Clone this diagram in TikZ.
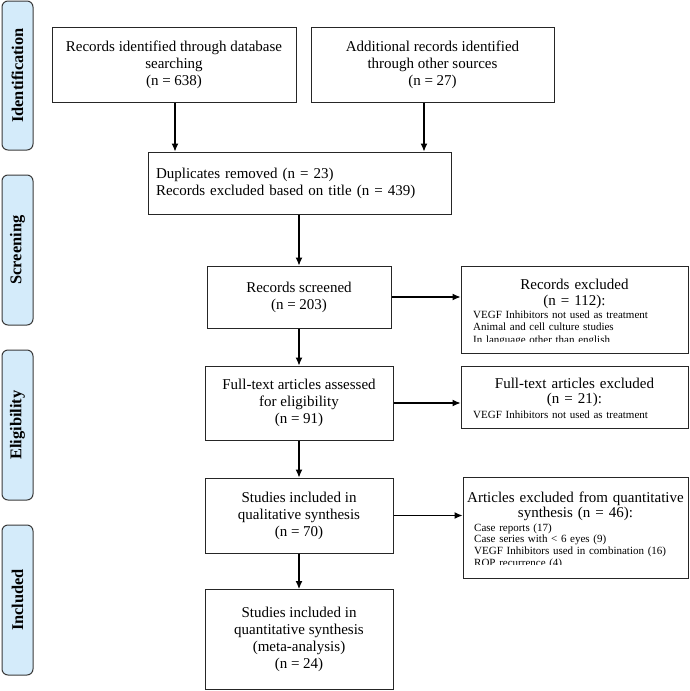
\documentclass[tikz,border=0pt]{standalone}
\usepackage{fontspec}
\setmainfont{Liberation Serif}
\usetikzlibrary{arrows.meta}
\definecolor{sidefill}{HTML}{D4EBFA}
\definecolor{sidedraw}{HTML}{3A3A3A}
\begin{document}
\begin{tikzpicture}[x=1pt,y=-1pt,
  mainfont/.style={font=\fontsize{15}{17}\selectfont},
  smallfont/.style={font=\fontsize{11}{12.5}\selectfont},
  flowbox/.style={draw=black!85, line width=1pt, inner sep=0pt, mainfont, align=center},
  sidebox/.style={draw=sidedraw, fill=sidefill, line width=1pt, rounded corners=6pt},
  sidetext/.style={rotate=90, font=\fontsize{16.4}{18}\selectfont\bfseries},
  arr/.style={line width=1.1pt, -{Latex[length=8pt,width=7pt]}}]
\useasboundingbox (0,0) rectangle (689,691);
% side labels
\node[sidebox, minimum width=31pt, minimum height=149pt] (s1) at (17.5,75.5) {};
\node[sidetext] (s1t) at (s1.center) {Identification};
\node[sidebox, minimum width=31pt, minimum height=150pt] (s2) at (17.5,250) {};
\node[sidetext] (s2t) at (s2.center) {Screening};
\node[sidebox, minimum width=31pt, minimum height=150pt] (s3) at (17.5,425) {};
\node[sidetext] (s3t) at (s3.center) {Eligibility};
\node[sidebox, minimum width=31pt, minimum height=150pt] (s4) at (17.5,600) {};
\node[sidetext] (s4t) at (s4.center) {Included};
% main boxes
\node[flowbox, minimum width=244pt, minimum height=75pt] (b1) at (174,64.5)
  {Records identified through database\\searching\\(n = 638)};
\node[flowbox, minimum width=243pt, minimum height=75pt] (b2) at (432.5,64.5)
  {Additional records identified\\through other sources\\(n = 27)};
\node[flowbox, minimum width=303pt, minimum height=62pt, text width=287pt, align=left] (b3) at (299.5,183)
  {Duplicates removed (n = 23)\\Records excluded based on title (n = 439)};
\node[flowbox, minimum width=184pt, minimum height=62pt] (b4) at (299,297)
  {Records screened\\(n = 203)};
\node[flowbox, minimum width=188pt, minimum height=74pt] (b5) at (299,403)
  {Full-text articles assessed\\for eligibility\\(n = 91)};
\node[flowbox, minimum width=188pt, minimum height=75pt] (b6) at (299,515.5)
  {Studies included in\\qualitative synthesis\\(n = 70)};
\node[flowbox, minimum width=188pt, minimum height=100pt] (b7) at (299,639.5)
  {Studies included in\\quantitative synthesis\\(meta-analysis)\\(n = 24)};
% exclusion boxes
\node[flowbox, minimum width=227pt, minimum height=87pt] (e1) at (574.5,309.5) {};
\node[flowbox, minimum width=227pt, minimum height=62pt] (e2) at (574.5,397) {};
\node[flowbox, minimum width=225pt, minimum height=101pt] (e3) at (575.5,527.5) {};
\begin{scope}
\clip (461,266) rectangle (688,341.5);
\node[anchor=base, text width=220pt, align=center, inner sep=0pt, font=\fontsize{15}{16}\selectfont] (e1h) at (574.5,289) {Records excluded\\(n = 112):};
\node[anchor=base west, text width=212pt, align=left, inner sep=0pt, smallfont] (e1l) at (473,318)
  {VEGF Inhibitors not used as treatment\\Animal and cell culture studies\\In language other than english};
\end{scope}
\node[anchor=base, text width=220pt, align=center, inner sep=0pt, font=\fontsize{15}{15.5}\selectfont] (e2h) at (574.5,388) {Full-text articles excluded\\(n = 21):};
\node[anchor=base west, text width=212pt, align=left, inner sep=0pt, smallfont] (e2l) at (473,418)
  {VEGF Inhibitors not used as treatment};
\begin{scope}
\clip (463,477) rectangle (688,564.5);
\node[anchor=base, text width=222pt, align=center, inner sep=0pt, font=\fontsize{15}{15.5}\selectfont] (e3h) at (575.5,502) {Articles excluded from quantitative\\synthesis (n = 46):};
\node[anchor=base west, text width=212pt, align=left, inner sep=0pt, font=\fontsize{11}{11.7}\selectfont] (e3l) at (474,531)
  {Case reports (17)\\Case series with < 6 eyes (9)\\VEGF Inhibitors used in combination (16)\\ROP recurrence (4)};
\end{scope}
% connectors
\draw[arr] (b1.south -| 175,0) -- (b3.north -| 175,0);
\draw[arr] (b2.south -| 424,0) -- (b3.north -| 424,0);
\draw[arr] (b3.south -| b4.north) -- (b4.north);
\draw[arr] (b4) -- (b5);
\draw[arr] (b5) -- (b6);
\draw[arr] (b6) -- (b7);
\draw[arr] (b4.east) -- (b4.east -| e1.west);
\draw[arr] (b5.east) -- (b5.east -| e2.west);
\draw[arr] (b6.east) -- (b6.east -| e3.west);
\end{tikzpicture}
\end{document}
